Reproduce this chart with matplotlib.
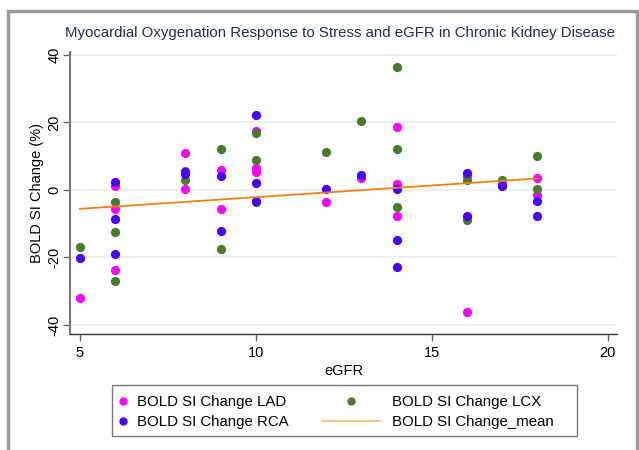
import matplotlib.pyplot as plt
from matplotlib.lines import Line2D
from matplotlib.patches import Rectangle

plt.rcParams['font.family'] = ['Liberation Sans', 'DejaVu Sans']

# eGFR and BOLD SI change (%) per coronary territory
lad_x = [5, 6, 6, 6, 8, 8, 9, 9, 10, 10, 10, 12, 13, 14, 14, 14, 16, 16, 17, 18, 18]
lad_y = [-32, 1.2, -5.7, -23.7, 11, 0.3, 5.9, -5.6, 17.6, 6.4, 5.4, -3.7, 3.4,
         18.7, 1.7, -7.6, 4.1, -36.3, 2.0, 3.4, -1.5]
lcx_x = [5, 6, 6, 6, 8, 8, 9, 9, 10, 10, 10, 12, 13, 14, 14, 14, 16, 16, 17, 18, 18]
lcx_y = [-16.8, -3.5, -12.6, -27, 3, 5.5, 12, -17.4, 16.8, 8.9, -3.7, 11.1, 20.3,
         36.5, 12.1, -5.2, 2.8, -8.9, 3, 10.1, 0.2]
rca_x = [5, 6, 6, 6, 8, 8, 9, 9, 10, 10, 10, 12, 13, 14, 14, 14, 16, 16, 17, 18, 18]
rca_y = [-20.1, 2.5, -8.5, -19, 5.4, 4.7, 4, -12.3, 22.2, 2, -3.2, 0.4, 4.5,
         0.3, -14.8, -22.8, 5.1, -7.7, 1.2, -3.2, -7.7]
mean_x = [5, 18]
mean_y = [-5.6, 3.4]

x_ticks = [5, 10, 15, 20]
y_ticks = [-40, -20, 0, 20, 40]

c_lad = '#ff00ff'
c_lcx = '#4a7a2c'
c_rca = '#4a00ff'
c_mean = '#f07f14'

W, H = 639, 450
fig = plt.figure(figsize=(6.39, 4.5), dpi=100)
ax = fig.add_axes([70 / W, 1 - 334 / H, 547 / W, (334 - 52.3) / H])

for y in y_ticks:
    ax.axhline(y, color='#e6eef2', lw=1.2, zorder=0)

ax.scatter(lad_x, lad_y, s=44, color=c_lad, zorder=3, lw=0)
ax.scatter(lcx_x, lcx_y, s=44, color=c_lcx, zorder=3, lw=0)
ax.scatter(rca_x, rca_y, s=44, color=c_rca, zorder=3, lw=0)
ax.plot(mean_x, mean_y, color=c_mean, lw=1.3, zorder=4)

ax.set_xlim(4.72, 20.26)
ax.set_ylim(-42.7, 40.8)
ax.set_xticks(x_ticks)
ax.set_yticks(y_ticks)
ax.set_yticklabels([str(v) for v in y_ticks], rotation=90, va='center')
ax.tick_params(axis='both', direction='out', length=5, width=1, color='#666666',
               labelsize=10.5)
ax.tick_params(axis='y', pad=1)
for side in ['top', 'right']:
    ax.spines[side].set_visible(False)
ax.spines['left'].set_color('#777777')
ax.spines['left'].set_linewidth(1.5)
ax.spines['bottom'].set_color('#333333')
ax.spines['bottom'].set_linewidth(1)

ax.set_xlabel('eGFR', fontsize=10.5, labelpad=3)
ax.set_ylabel('BOLD SI Change (%)', fontsize=10.5, labelpad=3)
fig.text(65 / W, 1 - 33 / H,
         'Myocardial Oxygenation Response to Stress and eGFR in Chronic Kidney Disease',
         ha='left', va='center', fontsize=10.8, color='#1e2d5a')

# legend: marker column and line column, one shared frame
leg_kw = dict(loc='center left', fontsize=10.8, frameon=False, borderpad=0,
              borderaxespad=0, labelspacing=0.42)
h1 = [Line2D([], [], marker='o', ls='', color=c_lad, markersize=5),
      Line2D([], [], marker='o', ls='', color=c_rca, markersize=5)]
leg1 = fig.legend(h1, ['BOLD SI Change LAD', 'BOLD SI Change RCA'],
                  bbox_to_anchor=(117 / W, 1 - 412 / H),
                  handlelength=0.8, handletextpad=0.55, **leg_kw)
h2 = [Line2D([], [], marker='o', ls='', color=c_lcx, markersize=5),
      Line2D([], [], color='#f5b56f', lw=1.2)]
leg2 = fig.legend(h2, ['BOLD SI Change LCX', 'BOLD SI Change_mean'],
                  bbox_to_anchor=(322 / W, 1 - 412 / H),
                  handlelength=3.87, handletextpad=0.8, **leg_kw)
fig.patches.append(Rectangle((112 / W, 1 - 436 / H), 465 / W, 51 / H,
                             transform=fig.transFigure, fill=False,
                             edgecolor='#777777', lw=1))

fig.patches.append(Rectangle((8 / W, -0.05), 629 / W, 1.05 - 11 / H,
                             transform=fig.transFigure, fill=False,
                             edgecolor='#9a9a9a', lw=2.5))

fig.savefig('out.png', dpi=100)
